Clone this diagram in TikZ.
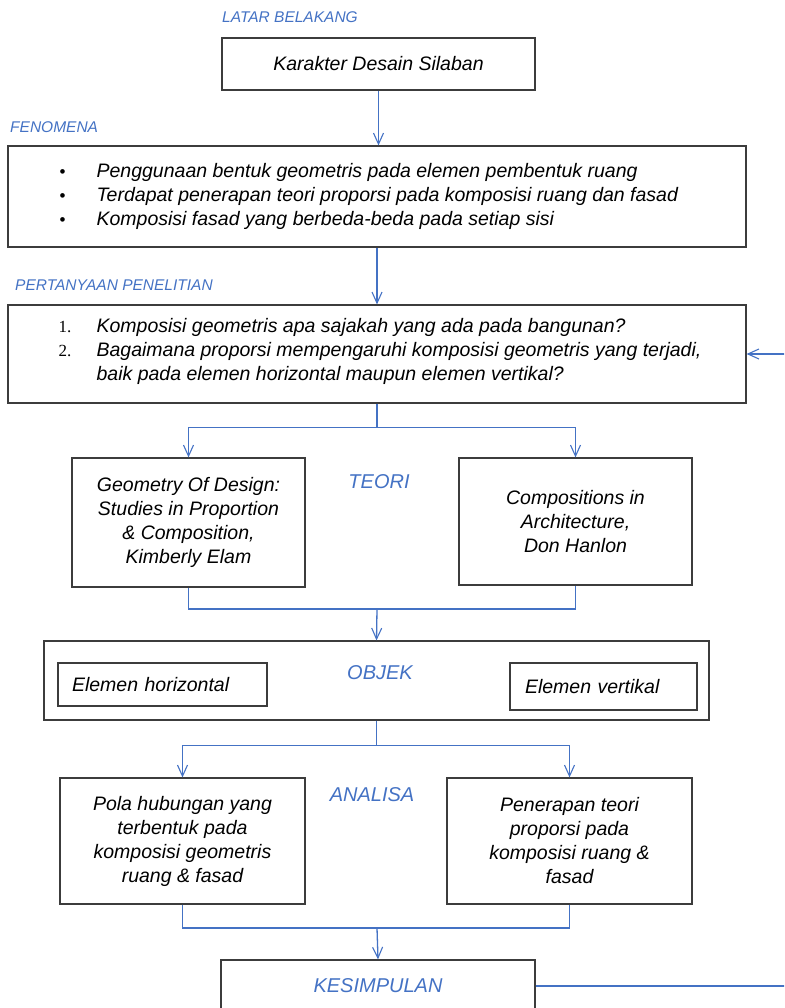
\documentclass[tikz,border=0pt]{standalone}
\usepackage{fontspec}
\setmainfont{Liberation Sans}
\newfontfamily\numfont{Liberation Serif}
\usetikzlibrary{arrows.meta,positioning}
\definecolor{flowblue}{HTML}{4472C4}
\definecolor{boxgray}{HTML}{3C3C3C}
\newcommand{\bodyfont}{\fontsize{19.5}{24}\selectfont\itshape}
\newcommand{\dotmark}{{\upshape\fontsize{17}{24}\selectfont\symbol{"2022}}}

\begin{document}
\begin{tikzpicture}[x=1pt,y=-1pt]
            \tikzset{
                box/.style={draw=boxgray, line width=1.2pt, inner sep=0pt, font=\bodyfont, align=center},
                listtext/.style={inner sep=0pt, font=\bodyfont, anchor=west},
                tag/.style={text=flowblue, inner sep=0pt, font=\fontsize{15.5}{18}\selectfont\itshape},
                headtag/.style={text=flowblue, inner sep=0pt, font=\fontsize{20}{24}\selectfont\itshape},
                link/.style={draw=flowblue, line width=1.3pt},
                flow/.style={link, -{Straight Barb[length=11pt,width=10pt,line width=1.1pt]}}
            }
            \clip (0,0) rectangle (784,1008);
            \node[tag] (latar) at (290,17) {LATAR BELAKANG};
            \node[box, minimum width=313, minimum height=52] (karakter) at (378.5,64) {Karakter Desain Silaban};
            \node[tag, anchor=west] (fenlabel) at (10,127) {FENOMENA};
            \node[box, minimum width=738, minimum height=101] (fen) at (377,196.5) {};
            \node[listtext] (fenlist) at ([xshift=52pt]fen.west) {%
                \begin{tabular}{@{}p{37pt}@{}l@{}}
                    \dotmark & Penggunaan bentuk geometris pada elemen pembentuk ruang\\
                    \dotmark & Terdapat penerapan teori proporsi pada komposisi ruang dan fasad\\
                    \dotmark & Komposisi fasad yang berbeda-beda pada setiap sisi
                \end{tabular}};
            \node[tag, anchor=west] (pertlabel) at (15,285) {PERTANYAAN PENELITIAN};
            \node[box, minimum width=738, minimum height=98] (pert) at (377,354) {};
            \node[listtext] (pertlist) at ([xshift=51pt,yshift=2pt]pert.west) {%
                \begin{tabular}{@{}p{38pt}@{}l@{}}
                    {\numfont\upshape\fontsize{17}{24}\selectfont 1.} & Komposisi geometris apa sajakah yang ada pada bangunan?\\
                    {\numfont\upshape\fontsize{17}{24}\selectfont 2.} & Bagaimana proporsi mempengaruhi komposisi geometris yang terjadi,\\
                    & baik pada elemen horizontal maupun elemen vertikal?
                \end{tabular}};
            \node[box, minimum width=233, minimum height=129] (geo) at (188.5,522.5) {Geometry Of Design:\\ Studies in Proportion\\ \& Composition,\\ Kimberly Elam};
            \node[headtag] (teori) at (379,482) {TEORI};
            \node[box, minimum width=233, minimum height=127] (comp) at (575.5,521.5) {Compositions in\\ Architecture,\\ Don Hanlon};
            \node[box, minimum width=665, minimum height=79] (objek) at (376.5,680.5) {};
            \node[headtag] (objeklabel) at (380,673) {OBJEK};
            \node[box, minimum width=209, minimum height=43, text width=181, inner xsep=14pt, align=left] (horiz) at (162.5,684.5) {Elemen horizontal};
            \node[box, minimum width=187, minimum height=47, text width=157, inner xsep=15pt, align=left] (vert) at (603.5,686.5) {Elemen vertikal};
            \node[box, minimum width=245, minimum height=126] (pola) at (182.5,841) {Pola hubungan yang\\ terbentuk pada\\ komposisi geometris\\ ruang \& fasad};
            \node[headtag] (analisa) at (372,795) {ANALISA};
            \node[box, minimum width=245, minimum height=126] (terapan) at (569.5,841) {Penerapan teori\\ proporsi pada\\ komposisi ruang \&\\ fasad};
            \node[box, minimum width=314, minimum height=52, text=flowblue, font=\fontsize{20}{24}\selectfont\itshape] (kes) at (378,986) {KESIMPULAN};
            \coordinate (join1) at (377,609);
            \coordinate (join2) at (377,928);
            \draw[flow] (karakter.south) -- (karakter.south |- fen.north);
            \draw[flow] (fen.south) -- (fen.south |- pert.north);
            \draw[flow] (pert.south) -- ++(0,24) -| (geo.north);
            \draw[flow] (pert.south) -- ++(0,24) -| (comp.north);
            \draw[link] (geo.south) |- (join1) -| (comp.south);
            \draw[flow] (join1) -- (objek.north);
            \draw[flow] (objek.south) -- ++(0,25) -| (pola.north);
            \draw[flow] (objek.south) -- ++(0,25) -| (terapan.north);
            \draw[link] (pola.south) |- (join2) -| (terapan.south);
            \draw[flow] (join2) -- (kes.north);
            \draw[flow] (kes.east) -- ++(270,0) |- (pert.east);
        \end{tikzpicture}
\end{document}
